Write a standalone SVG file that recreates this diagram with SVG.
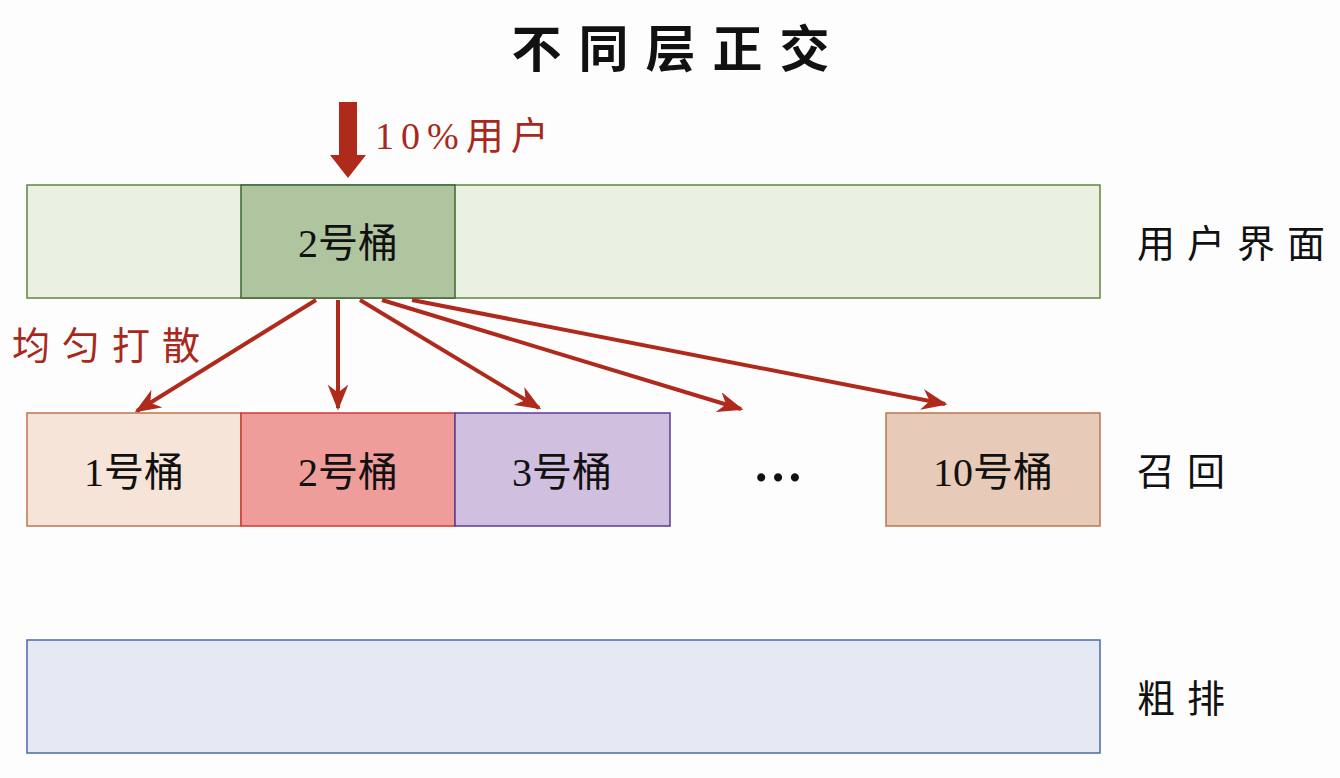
<svg xmlns="http://www.w3.org/2000/svg" width="1340" height="778" viewBox="0 0 1340 778">
  <style>
    .t { font-family: "Liberation Serif", "Noto Sans CJK SC", serif; fill: #111; }
    .box { font-size: 40px; text-anchor: middle; }
    .side { font-size: 38px; letter-spacing: 12px; }
    .red { fill: #a8281c; }
    .conn { stroke: #b02a1c; stroke-width: 4; fill: none; marker-end: url(#head); }
  </style>
  <defs>
    <marker id="head" viewBox="0 0 10 8" refX="9" refY="4" markerWidth="6.5" markerHeight="5.2" markerUnits="strokeWidth" orient="auto">
      <path d="M0,0 L10,4 L0,8 L3,4 z" fill="#b02a1c"/>
    </marker>
  </defs>
  <rect width="1340" height="778" fill="#fdfdfd"/>

  <!-- title -->
  <text class="t" x="679" y="67" font-size="50" font-weight="bold" text-anchor="middle" letter-spacing="17">不同层正交</text>

  <!-- layer: 用户界面 -->
  <g id="layer-ui">
    <rect x="27" y="185" width="1073" height="113" fill="#eaf1e2" stroke="#5f8540" stroke-width="1.5"/>
    <text class="t side" x="1137" y="257">用户界面</text>
  </g>
  <g id="ui-bucket-2">
    <rect x="241" y="185" width="214" height="113" fill="#afc5a0" stroke="#3e6630" stroke-width="1.5"/>
    <text class="t box" x="348" y="257">2号桶</text>
  </g>

  <!-- incoming traffic -->
  <g id="traffic">
    <polygon points="339,102 357,102 357,155 366,155 348,178 330,155 339,155" fill="#b02a1c"/>
    <text class="t red" x="375" y="149" font-size="38" letter-spacing="7">10%用户</text>
  </g>

  <!-- layer: 召回 -->
  <g id="recall-bucket-1">
    <rect x="27" y="413" width="214" height="113" fill="#f6e4d8" stroke="#b8774c" stroke-width="1.5"/>
    <text class="t box" x="134" y="486">1号桶</text>
  </g>
  <g id="recall-bucket-2">
    <rect x="241" y="413" width="214" height="113" fill="#ef9d9b" stroke="#cc3a36" stroke-width="1.5"/>
    <text class="t box" x="348" y="486">2号桶</text>
  </g>
  <g id="recall-bucket-3">
    <rect x="455" y="413" width="215" height="113" fill="#d0bfde" stroke="#5a3c96" stroke-width="1.5"/>
    <text class="t box" x="562" y="486">3号桶</text>
  </g>
  <g id="recall-ellipsis">
    <text class="t" x="778" y="481" font-size="50" font-weight="bold" text-anchor="middle">…</text>
  </g>
  <g id="recall-bucket-10">
    <rect x="886" y="413" width="214" height="113" fill="#e7cbb8" stroke="#b8774c" stroke-width="1.5"/>
    <text class="t box" x="993" y="486">10号桶</text>
  </g>
  <g id="recall-label">
    <text class="t side" x="1137" y="485">召回</text>
  </g>

  <!-- layer: 粗排 -->
  <g id="layer-rank">
    <rect x="27" y="640" width="1073" height="113" fill="#e4e9f4" stroke="#4b6aa6" stroke-width="1.5"/>
    <text class="t side" x="1137" y="712">粗排</text>
  </g>

  <!-- spread label -->
  <text class="t red" x="12" y="359" font-size="38" letter-spacing="12">均匀打散</text>

  <!-- connectors -->
  <g id="connectors">
    <line class="conn" x1="316" y1="300" x2="137" y2="411"/>
    <line class="conn" x1="338" y1="300" x2="338" y2="408"/>
    <line class="conn" x1="360" y1="300" x2="539" y2="408"/>
    <line class="conn" x1="382" y1="300" x2="741" y2="409"/>
    <line class="conn" x1="412" y1="300" x2="945" y2="404"/>
  </g>
</svg>
